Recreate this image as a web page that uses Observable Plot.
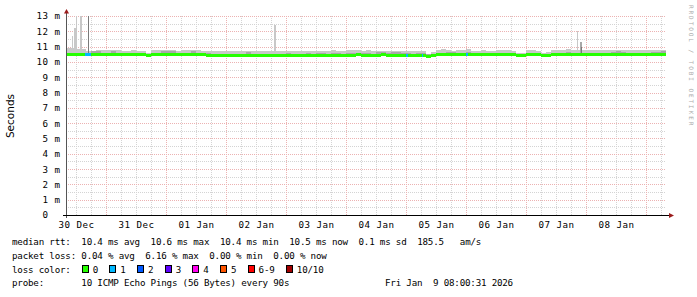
<!DOCTYPE html>
<html><head><meta charset="utf-8">
<script src="https://cdn.jsdelivr.net/npm/d3@7"></script>
<script src="https://cdn.jsdelivr.net/npm/@observablehq/plot@0.6"></script>
<style>
html,body{margin:0;padding:0;background:#fff;}
#chart{position:relative;width:697px;height:297px;overflow:hidden;background:#fff;}
#chart svg text{white-space:pre;}
g[aria-label="x-axis tick label"] text, g[aria-label="y-axis tick label"] text{letter-spacing:0.45px;}
</style></head><body><div id="chart"></div>
<script>
// ---- data ----
const startTime = "2025-12-30T08:00:00Z";
const endTime = "2026-01-09T08:00:00Z";
const binHours = 2; // each value covers 2 hours

const medianRtt = [
10.52,10.51,10.52,10.52,10.50,10.51,10.52,10.52,10.51,10.52,10.52,10.51,
10.52,10.51,10.52,10.52,10.44,10.51,10.52,10.52,10.51,10.52,10.51,10.52,
10.52,10.51,10.50,10.49,10.48,10.46,10.45,10.45,10.46,10.45,10.45,10.46,
10.45,10.45,10.46,10.45,10.46,10.47,10.46,10.47,10.48,10.47,10.46,10.47,
10.48,10.47,10.48,10.48,10.47,10.48,10.48,10.47,10.48,10.48,10.49,10.48,
10.48,10.47,10.48,10.49,10.48,10.48,10.47,10.48,10.48,10.47,10.48,10.48,
10.41,10.46,10.49,10.50,10.50,10.49,10.50,10.50,10.50,10.50,10.51,10.50,
10.50,10.50,10.51,10.50,10.50,10.50,10.43,10.43,10.50,10.50,10.51,10.43,
10.43,10.50,10.50,10.51,10.50,10.50,10.50,10.53,10.51,10.50,10.50,10.51,
10.50,10.50,10.51,10.50,10.50,10.51,10.50,10.50,10.51,10.50,10.50,10.51];

const smokeTop = [
10.88,10.90,10.86,10.84,10.72,10.73,10.78,10.79,10.77,10.78,10.76,10.74,
10.73,10.75,10.74,10.72,10.60,10.76,10.77,10.75,10.78,10.76,10.74,10.80,
10.79,10.81,10.78,10.72,10.70,10.70,10.71,10.69,10.70,10.72,10.70,10.69,
10.71,10.70,10.72,10.71,10.70,10.72,10.70,10.73,10.71,10.70,10.72,10.70,
10.70,10.71,10.69,10.70,10.72,10.76,10.73,10.70,10.76,10.75,10.77,10.74,
10.75,10.73,10.74,10.72,10.71,10.72,10.70,10.73,10.72,10.71,10.70,10.72,
10.50,10.62,10.75,10.85,10.76,10.74,10.75,10.77,10.86,10.74,10.73,10.75,
10.74,10.73,10.76,10.80,10.78,10.74,10.59,10.60,10.75,10.76,10.74,10.60,
10.62,10.77,10.76,10.78,10.84,10.77,10.76,10.80,10.78,10.75,10.77,10.76,
10.78,10.75,10.80,10.77,10.76,10.79,10.77,10.78,10.80,10.78,10.76,10.78];

const smokeInner = [
10.60,10.59,10.60,10.60,10.58,10.69,10.70,10.60,10.59,10.69,10.60,10.59,
10.60,10.59,10.60,10.60,10.52,10.59,10.60,10.70,10.69,10.70,10.59,10.60,
10.60,10.69,10.58,10.57,10.56,10.54,10.53,10.53,10.54,10.53,10.53,10.54,
10.63,10.53,10.54,10.53,10.54,10.55,10.54,10.55,10.56,10.55,10.54,10.55,
10.56,10.55,10.56,10.56,10.55,10.56,10.56,10.55,10.56,10.56,10.57,10.56,
10.56,10.55,10.66,10.67,10.56,10.66,10.65,10.56,10.56,10.55,10.56,10.56,
10.49,10.54,10.57,10.58,10.68,10.67,10.58,10.58,10.68,10.58,10.59,10.58,
10.58,10.58,10.59,10.58,10.58,10.58,10.51,10.51,10.58,10.58,10.59,10.51,
10.51,10.58,10.58,10.59,10.68,10.58,10.58,10.61,10.59,10.58,10.58,10.59,
10.58,10.68,10.69,10.68,10.58,10.59,10.58,10.58,10.59,10.68,10.68,10.69];

const smokeBottom = [
10.40,10.39,10.40,10.40,10.38,10.39,10.40,10.40,10.39,10.40,10.40,10.39,
10.40,10.39,10.40,10.40,10.34,10.39,10.40,10.40,10.39,10.40,10.39,10.40,
10.40,10.39,10.38,10.37,10.36,10.34,10.33,10.33,10.34,10.33,10.33,10.34,
10.33,10.33,10.34,10.33,10.34,10.35,10.34,10.35,10.36,10.35,10.34,10.35,
10.36,10.35,10.36,10.36,10.35,10.36,10.36,10.35,10.36,10.36,10.37,10.36,
10.36,10.35,10.36,10.37,10.36,10.36,10.35,10.36,10.36,10.35,10.36,10.36,
10.31,10.34,10.37,10.38,10.38,10.37,10.38,10.38,10.38,10.38,10.39,10.38,
10.38,10.38,10.39,10.38,10.38,10.38,10.33,10.33,10.38,10.38,10.39,10.33,
10.33,10.38,10.38,10.39,10.38,10.38,10.38,10.41,10.39,10.38,10.38,10.39,
10.38,10.38,10.39,10.38,10.38,10.39,10.38,10.38,10.39,10.38,10.38,10.39];

// isolated high pings
const spikeStart = ["2025-12-30T10:24Z","2025-12-30T11:12Z","2025-12-30T12:00Z","2025-12-30T13:24Z","2025-12-30T16:36Z","2026-01-02T19:12Z","2026-01-07T20:12Z","2026-01-07T21:24Z","2026-01-07T21:48Z"];
const spikeMinutes = [24,72,24,48,24,48,24,48,24];
const spikeTop = [11.7,12.2,13.0,13.0,13.0,12.4,12.0,11.3,10.95];
const spikeShade = ["light","light","light","light","dark","light","light","mid","dark"];

// packet loss events
const lossStart = ["2025-12-30T15:40Z","2026-01-05T00:00Z","2026-01-05T06:12Z","2026-01-06T00:00Z"];
const lossMinutes = [144,48,24,48];
const lossCount = [1,1,1,1];

const lossLabels = ["0","1","2","3","4","5","6-9","10/10"];
const lossColors = ["#26ff00","#00b8ff","#0059ff","#5e00ff","#ff00f0","#ff5500","#ff0000","#a00000"];

const yMajorTicks = [0,1,2,3,4,5,6,7,8,9,10,11,12,13];
const yMinorTicks = [0.5,1.5,2.5,3.5,4.5,5.5,6.5,7.5,8.5,9.5,10.5,11.5,12.5];

const legendLines = [
  "median rtt:  10.4 ms avg  10.6 ms max  10.4 ms min  10.5 ms now  0.1 ms sd  185.5   am/s",
  "packet loss: 0.04 % avg  6.16 % max  0.00 % min  0.00 % now",
  "loss color:",
  "probe:       10 ICMP Echo Pings (56 Bytes) every 90s"
];
const stampText = "Fri Jan  9 08:00:31 2026";

// ---- build tables ----
const t0 = new Date(startTime), tEnd = new Date(endTime);
const H = 3600e3;
const bins = medianRtt.map((m, i) => ({
  t1: new Date(+t0 + i * binHours * H),
  t2: new Date(+t0 + (i + 1) * binHours * H),
  med: m, hi: smokeTop[i], lo: smokeBottom[i], inner: smokeInner[i]
}));
const binOf = t => Math.min(bins.length - 1, Math.floor((t - t0) / (binHours * H)));
const spikes = spikeStart.map((s, i) => {
  const a = new Date(s);
  return {t1: a, t2: new Date(+a + spikeMinutes[i] * 60e3), base: bins[binOf(a)].med, top: spikeTop[i], shade: spikeShade[i]};
});
const losses = lossStart.map((s, i) => {
  const a = new Date(s);
  return {t1: a, t2: new Date(+a + lossMinutes[i] * 60e3), y: bins[binOf(a)].med, n: lossCount[i]};
});
const lossColor = n => n === 0 ? lossColors[0] : n <= 5 ? lossColors[n] : n < 10 ? lossColors[6] : lossColors[7];
const shadeColor = {light: "#c8c8c8", mid: "#a8a8a8", dark: "#7a7a7a"};

const minorTimes = d3.utcHour.every(6).range(t0, tEnd).filter(d => d.getUTCHours() !== 0);
const dayTimes = d3.utcDay.range(t0, tEnd);
const labelTimes = dayTimes.map(d => d3.utcHour.offset(d, -12)).filter(d => d >= t0);

const mono = "DejaVu Sans Mono";
const gridMinor = "#d4d4d4", gridMajor = "#ecb2b2";
const plot = Plot.plot({
  width: 697, height: 297,
  marginLeft: 66, marginRight: 31, marginTop: 16, marginBottom: 82,
  x: {type: "utc", domain: [t0, tEnd]},
  y: {domain: [0, 13]},
  style: {fontFamily: mono, fontSize: "9.2px", color: "#000", background: "#fff", overflow: "visible"},
  marks: [
    Plot.ruleY(yMinorTicks, {stroke: gridMinor, strokeDasharray: "1,1", shapeRendering: "crispEdges"}),
    Plot.ruleX(minorTimes, {stroke: gridMinor, strokeDasharray: "1,1", shapeRendering: "crispEdges"}),
    Plot.ruleY(yMajorTicks.filter(d => d > 0), {stroke: gridMajor, strokeDasharray: "1,1", shapeRendering: "crispEdges"}),
    Plot.ruleX(dayTimes, {stroke: gridMajor, strokeDasharray: "1,1", shapeRendering: "crispEdges"}),
    Plot.rect(bins, {x1: "t1", x2: "t2", y1: "lo", y2: "hi", fill: "#c8c8c8", shapeRendering: "crispEdges"}),
    Plot.rect(bins, {x1: "t1", x2: "t2", y1: "lo", y2: "inner", fill: "#a8a8a8", shapeRendering: "crispEdges"}),
    Plot.rect(spikes, {x1: "t1", x2: "t2", y1: "base", y2: "top", fill: d => shadeColor[d.shade], shapeRendering: "crispEdges"}),
    Plot.ruleY(bins, {x1: "t1", x2: "t2", y: "med", stroke: lossColors[0], strokeWidth: 3, shapeRendering: "crispEdges"}),
    Plot.ruleY(losses, {x1: "t1", x2: "t2", y: "y", stroke: d => lossColor(d.n), strokeWidth: 3, shapeRendering: "crispEdges"}),
    Plot.axisX(labelTimes, {tickSize: 0, tickPadding: 6, tickFormat: d3.utcFormat("%d %b"), label: null, fontFamily: mono}),
    Plot.axisY(yMajorTicks, {tickSize: 0, tickPadding: 6, tickFormat: d => d === 0 ? "0\u00a0\u00a0" : d + " m", label: null, fontFamily: mono})
  ]
});
document.getElementById("chart").appendChild(plot);

// ---- axes, arrows, labels, legend ----
const svg = d3.select(plot);
const xs = plot.scale("x"), ys = plot.scale("y");
const X0 = xs.apply(t0), X1 = xs.apply(tEnd);
const Y0 = ys.apply(0), YT = ys.apply(13);
const arrowCol = "#9b1c1c";
svg.append("line").attr("x1", X0 + 0.5).attr("x2", X0 + 0.5).attr("y1", Y0 + 3).attr("y2", YT - 3)
  .attr("stroke", "#555").attr("shape-rendering", "crispEdges");
svg.append("path").attr("d", `M${X0 - 2},${YT - 2.5}L${X0 + 0.5},${YT - 7}L${X0 + 3},${YT - 2.5}Z`).attr("fill", arrowCol);
svg.append("line").attr("x1", X0 - 3).attr("x2", X1 + 3).attr("y1", Y0 + 0.5).attr("y2", Y0 + 0.5)
  .attr("stroke", "#000").attr("shape-rendering", "crispEdges");
svg.append("path").attr("d", `M${X1 + 3},${Y0 - 2}L${X1 + 8},${Y0 + 0.5}L${X1 + 3},${Y0 + 3}Z`).attr("fill", arrowCol);

svg.append("text").attr("transform", `translate(14,${(Y0 + YT) / 2 + 0.5}) rotate(-90)`)
  .attr("text-anchor", "middle").attr("font-family", "DejaVu Sans").attr("font-size", "10.5px").attr("fill", "#000")
  .text("Seconds");
svg.append("text").attr("transform", `translate(689,5) rotate(90)`).attr("text-anchor", "start")
  .attr("font-family", mono).attr("font-size", "6px").attr("letter-spacing", "1.95px").attr("fill", "#aaaaaa")
  .text("RRDTOOL / TOBI OETIKER");

const legendBase = [245.3, 258.7, 273, 286.3];
const lg = svg.append("g").attr("font-family", mono).attr("font-size", "9.2px").attr("letter-spacing", "-0.2px")
  .attr("fill", "#000").attr("text-anchor", "start");
legendLines.forEach((s, i) => lg.append("text").attr("x", 12).attr("y", legendBase[i]).text(s));
lg.append("text").attr("x", 385).attr("y", legendBase[3]).text(stampText);
let lx = 81.7;
lossLabels.forEach((lab, i) => {
  lg.append("rect").attr("x", lx + 0.5).attr("y", legendBase[2] - 7.5).attr("width", 6).attr("height", 7)
    .attr("fill", lossColors[i]).attr("stroke", "#000").attr("stroke-width", 1).attr("shape-rendering", "crispEdges");
  const t = lg.append("text").attr("x", lx + 11).attr("y", legendBase[2]).text(lab);
  lx += 22.3 + t.node().getComputedTextLength();
});
</script></body></html>
